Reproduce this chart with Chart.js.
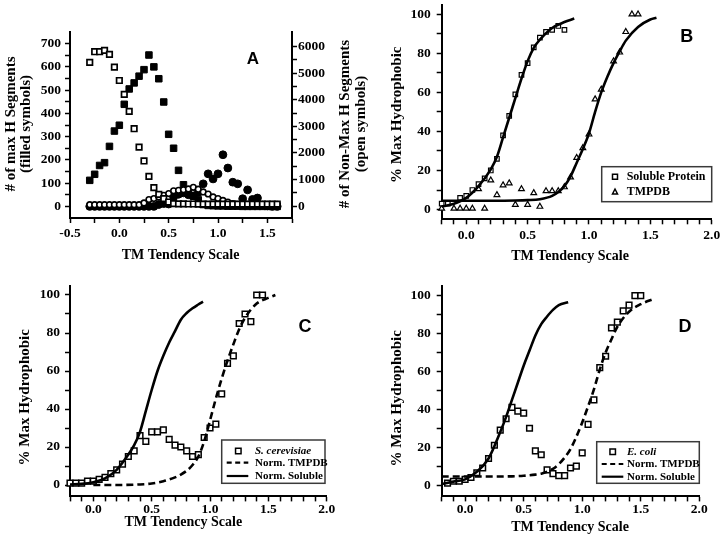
<!DOCTYPE html>
<html>
<head>
<meta charset="utf-8">
<script src="https://cdn.jsdelivr.net/npm/chart.js@4.4.1/dist/chart.umd.min.js"></script>
<style>
  body { margin: 0; background: #fff; }
  #wrap { position: relative; width: 720px; height: 538px; overflow: hidden; background: #fff; }
  canvas { position: absolute; }
</style>
</head>
<body>
<div id="wrap">
  <canvas id="chartA" style="left:0px;top:0px" width="380" height="270"></canvas>
  <canvas id="chartB" style="left:375px;top:0px" width="345" height="270"></canvas>
  <canvas id="chartC" style="left:0px;top:270px" width="375" height="268"></canvas>
  <canvas id="chartD" style="left:375px;top:270px" width="345" height="268"></canvas>
</div>
<script>
// ---------- panel A: segment counts per TM tendency bin ----------
var binsA = [-0.3, -0.25, -0.2, -0.15, -0.1, -0.05, 0, 0.05, 0.1, 0.15, 0.2, 0.25, 0.3, 0.35, 0.4, 0.45, 0.5, 0.55, 0.6, 0.65,
             0.7, 0.75, 0.8, 0.85, 0.9, 0.95, 1.0, 1.05, 1.1, 1.15, 1.2, 1.25, 1.3, 1.35, 1.4, 1.45, 1.5, 1.55, 1.6];
// filled squares (left axis)
var maxHSquares = [112, 138, 176, 188, 258, 324, 349, 439, 505, 531, 560, 588, 651, 600, 549, 449, 310, 250, 155, 93,
                   55, 44, 28, 8, 4, 3, 2, 2, 1, 1, 1, 0, 0, 0, 0, 0, 0, 0, 0];
// filled circles (left axis)
var maxHCircles = [0, 0, 0, 0, 0, 0, 0, 0, 0, 0, 0, 0, 0, 0, 8, 12, 10, 40, 52, 58,
                   50, 45, 60, 97, 140, 118, 140, 222, 165, 104, 97, 33, 71, 30, 36, 5, 2, 0, 0];
// open squares (right axis)
var nonMaxSquares = [5400, 5800, 5800, 5850, 5700, 5220, 4720, 4200, 3560, 2910, 2220, 1700, 1120, 700, 450, 290, 160, 100, 90, 90,
                     85, 85, 80, 80, 80, 80, 80, 80, 80, 80, 80, 80, 80, 80, 80, 80, 80, 80, 80];
// open circles (right axis)
var nonMaxCircles = [60, 60, 60, 60, 60, 60, 60, 60, 60, 60, 60, 125, 250, 290, 350, 410, 475, 580, 600, 620,
                     650, 710, 640, 540, 460, 350, 290, 220, 160, 100, 70, 70, 70, 70, 70, 70, 70, 70, 70];

// ---------- panel B: soluble protein vs TMPDB ----------
var xSoluble = [-0.2, -0.15, -0.05, 0, 0.05, 0.1, 0.15, 0.2, 0.25, 0.3, 0.35, 0.4, 0.45, 0.5, 0.55, 0.6, 0.65, 0.7, 0.75, 0.8];
var ySoluble = [3, 3, 6, 7, 10, 13, 16, 20, 26, 38, 48, 59, 69, 75, 83, 88, 91, 92, 94, 92];
var xTmpdb = [-0.2, -0.1, -0.05, 0, 0.05, 0.1, 0.15, 0.2, 0.25, 0.3, 0.35, 0.4, 0.45, 0.5, 0.55, 0.6, 0.65, 0.7, 0.75, 0.8,
              0.85, 0.9, 0.95, 1.0, 1.05, 1.1, 1.2, 1.25, 1.3, 1.35, 1.4];
var yTmpdb = [0.5, 0.5, 0.5, 0.5, 0.5, 10.5, 0.5, 15, 7.5, 12.5, 13.5, 2.5, 10.5, 2.5, 8.5, 1.5, 9.5, 9.5, 9.5, 11.5,
              16.5, 26.5, 31.5, 38.5, 56.5, 61.5, 76, 80.5, 91, 100, 100];
var xFitSoluble = [-0.2, -0.1, 0, 0.1, 0.2, 0.25, 0.3, 0.35, 0.4, 0.45, 0.5, 0.55, 0.6, 0.7, 0.8, 0.88];
var yFitSoluble = [1.5, 3, 6, 12, 20.6, 27, 37, 47, 57, 67, 76, 82.8, 87, 93, 96, 97.8];
var xFitTmpdb = [-0.2, 0, 0.2, 0.4, 0.5, 0.6, 0.7, 0.75, 0.8, 0.85, 0.9, 0.95, 1.0, 1.05, 1.1, 1.15, 1.2, 1.25, 1.3, 1.4, 1.5, 1.55];
var yFitTmpdb = [4.5, 4.5, 4.5, 4.6, 4.8, 5.3, 7, 9, 12, 17, 24, 31, 39, 50, 60, 68, 75, 81, 86.5, 93.5, 97.3, 98.2];

// ---------- panel C: S. cerevisiae ----------
var xCerevisiae = [-0.2, -0.15, -0.1, -0.05, 0, 0.05, 0.1, 0.15, 0.2, 0.25, 0.3, 0.35, 0.4, 0.45, 0.5, 0.55, 0.6,
                   0.65, 0.7, 0.75, 0.8, 0.85, 0.9, 0.95, 1.0, 1.05, 1.1, 1.15, 1.2, 1.25, 1.3, 1.35, 1.4, 1.45];
var yCerevisiae = [1, 1, 1, 2, 2, 3, 4, 6, 8, 11, 15, 18, 26, 23, 28, 28, 29,
                   24, 21, 20, 18, 15, 16, 25, 30, 32, 48, 64, 68, 85, 90, 86, 100, 100];
var xNormSolC = [-0.2, -0.1, 0, 0.1, 0.2, 0.3, 0.35, 0.4, 0.45, 0.5, 0.55, 0.6, 0.65, 0.7, 0.75, 0.8, 0.85, 0.9, 0.94];
var yNormSolC = [0.3, 0.6, 1.5, 3.5, 8, 16, 21, 28, 39, 50, 60, 68, 75, 81, 87, 90.5, 93, 95, 96.5];
var xNormTmC = [0, 0.2, 0.4, 0.5, 0.6, 0.7, 0.75, 0.8, 0.85, 0.9, 0.95, 1.0, 1.05, 1.1, 1.15, 1.2, 1.25, 1.3, 1.4, 1.5, 1.56];
var yNormTmC = [0, 0, 0.3, 0.8, 2, 4, 5.5, 7.5, 10.5, 15, 23, 34, 45.5, 56, 65.5, 74, 82, 88, 95.5, 98.5, 100];

// ---------- panel D: E. coli ----------
var xColi = [-0.15, -0.1, -0.05, 0, 0.05, 0.1, 0.15, 0.2, 0.25, 0.3, 0.35, 0.4, 0.45, 0.5, 0.55, 0.6, 0.65,
             0.7, 0.75, 0.8, 0.85, 0.9, 0.95, 1.0, 1.05, 1.1, 1.15, 1.2, 1.25, 1.3, 1.35, 1.4, 1.45, 1.5];
var yColi = [1, 2, 2, 3, 4, 6.5, 9, 14, 21, 29, 35, 41, 39, 38, 30, 18, 16,
             8, 6, 5, 5, 9, 10, 17, 32, 45, 62, 68, 83, 86, 92, 95, 100, 100];
var xNormSolD = [-0.2, -0.1, 0, 0.1, 0.2, 0.3, 0.35, 0.4, 0.45, 0.5, 0.55, 0.6, 0.65, 0.7, 0.75, 0.8, 0.88];
var yNormSolD = [0.5, 1.8, 3, 7, 14, 28, 36, 45, 54, 63, 71, 79, 85, 89, 92.5, 95, 96.5];
var xNormTmD = [-0.2, 0, 0.2, 0.4, 0.5, 0.6, 0.65, 0.7, 0.75, 0.8, 0.85, 0.9, 0.95, 1.0, 1.05, 1.1, 1.15, 1.2, 1.25, 1.3, 1.4, 1.5, 1.62];
var yNormTmD = [4.5, 4.5, 4.5, 4.6, 4.9, 5.5, 6, 7, 8.5, 11, 14.5, 19, 25.5, 33, 41.5, 50.5, 61, 70, 77, 83.6, 91.5, 95.5, 98.5];

// ---------- ticks ----------
var ticksXA = [-0.5, -0.25, 0, 0.25, 0.5, 0.75, 1.0, 1.25, 1.5, 1.75];
var ticksYA = [0, 50, 100, 150, 200, 250, 300, 350, 400, 450, 500, 550, 600, 650, 700];
var ticksY2A = [0, 500, 1000, 1500, 2000, 2500, 3000, 3500, 4000, 4500, 5000, 5500, 6000];
var ticksX = [-0.2, -0.1, 0, 0.1, 0.2, 0.3, 0.4, 0.5, 0.6, 0.7, 0.8, 0.9, 1.0, 1.1, 1.2, 1.3, 1.4, 1.5, 1.6, 1.7, 1.8, 1.9, 2.0];
var ticksY = [0, 10, 20, 30, 40, 50, 60, 70, 80, 90, 100];

var SERIF = '"Liberation Serif", "Times New Roman", serif';
var SANS = '"Liberation Sans", Arial, sans-serif';

Chart.defaults.font.family = SERIF;
Chart.defaults.font.weight = 'bold';
Chart.defaults.font.size = 13.5;
Chart.defaults.color = '#000';

function pts(xs, ys) {
    return xs.map(function (x, i) { return { x: x, y: ys[i] }; });
}

function isMajor(v, step) {
    return Math.abs(v / step - Math.round(v / step)) < 1e-6;
}

function makeScale(pos, min, max, tickList, major, decimals, size, pad) {
    return {
        type: 'linear',
        position: pos,
        min: min,
        max: max,
        afterBuildTicks: function (s) {
            s.ticks = tickList.map(function (v) { return { value: v }; });
        },
        afterFit: function (s) {
            if (s.isHorizontal()) s.height = size; else s.width = size;
            s.paddingLeft = 0; s.paddingRight = 0; s.paddingTop = 0; s.paddingBottom = 0;
        },
        grid: { drawOnChartArea: false, tickLength: 5, tickWidth: 1.5, tickColor: '#000' },
        border: { color: '#000', width: 2 },
        ticks: {
            padding: pad,
            autoSkip: false,
            maxRotation: 0,
            minRotation: 0,
            callback: function (v) { return isMajor(v, major) ? v.toFixed(decimals) : ''; }
        },
        title: { display: false }
    };
}

// free text (axis titles, panel letters)
var panelText = {
    id: 'panelText',
    afterDraw: function (chart, args, opts) {
        var ctx = chart.ctx;
        (opts.items || []).forEach(function (t) {
            ctx.save();
            ctx.translate(t.x, t.y);
            if (t.rotate) ctx.rotate(t.rotate * Math.PI / 180);
            ctx.font = t.font;
            ctx.fillStyle = '#000';
            ctx.textAlign = 'center';
            ctx.textBaseline = 'middle';
            ctx.fillText(t.text, 0, 0);
            ctx.restore();
        });
    }
};

function drawMarker(ctx, style, x, y, s, bw) {
    ctx.lineWidth = bw;
    ctx.beginPath();
    if (style === 'triangle') {
        var h = s * 0.87;
        ctx.moveTo(x, y - h / 2 - 0.5);
        ctx.lineTo(x + s / 2, y + h / 2);
        ctx.lineTo(x - s / 2, y + h / 2);
        ctx.closePath();
    } else {
        ctx.rect(x - s / 2, y - s / 2, s, s);
    }
    ctx.stroke();
}

// boxed legend inside the plot
var boxLegend = {
    id: 'boxLegend',
    afterDraw: function (chart, args, o) {
        if (!o.rows) return;
        var ctx = chart.ctx;
        var b = o.box;
        ctx.save();
        ctx.fillStyle = '#fff';
        ctx.fillRect(b[0], b[1], b[2] - b[0], b[3] - b[1]);
        ctx.strokeStyle = '#3a3a3a';
        ctx.lineWidth = 1.5;
        ctx.strokeRect(b[0], b[1], b[2] - b[0], b[3] - b[1]);
        o.rows.forEach(function (r) {
            var ds = chart.data.datasets[r.index];
            ctx.strokeStyle = '#000';
            if (ds.showLine) {
                ctx.lineWidth = 2.2;
                ctx.setLineDash(ds.borderDash ? [5, 3.5] : []);
                ctx.beginPath();
                ctx.moveTo(o.line[0], r.y);
                ctx.lineTo(o.line[1], r.y);
                ctx.stroke();
                ctx.setLineDash([]);
            } else {
                drawMarker(ctx, ds.pointStyle, o.markX, r.y, o.markSize, 1.5);
            }
            ctx.font = r.font || o.font;
            ctx.fillStyle = '#000';
            ctx.textAlign = 'left';
            ctx.textBaseline = 'middle';
            ctx.fillText(ds.label, o.textX, r.y + 0.5);
        });
        ctx.restore();
    }
};

function pointSet(label, data, style, radius, filled, bw, axis) {
    return {
        label: label,
        data: data,
        yAxisID: axis || 'y',
        showLine: false,
        pointStyle: style,
        pointRadius: radius,
        pointHoverRadius: radius,
        pointBorderWidth: bw,
        pointBorderColor: '#000',
        pointBackgroundColor: filled ? '#000' : '#fff',
        clip: false
    };
}

function lineSet(label, data, width, dashed) {
    return {
        label: label,
        data: data,
        showLine: true,
        borderColor: '#000',
        borderWidth: width,
        borderDash: dashed ? [7, 4] : undefined,
        pointRadius: 0,
        pointHoverRadius: 0,
        cubicInterpolationMode: 'monotone',
        fill: false,
        clip: false
    };
}

function baseOptions(padding, scales, texts, legend) {
    return {
        responsive: false,
        animation: false,
        events: [],
        layout: { padding: padding },
        scales: scales,
        plugins: {
            legend: { display: false },
            tooltip: { enabled: false },
            panelText: { items: texts },
            boxLegend: legend || {}
        }
    };
}

var yTitleFont = 'bold 15px ' + SERIF;
var xTitleFont = 'bold 14px ' + SERIF;

// ---------- panel A ----------
new Chart(document.getElementById('chartA'), {
    type: 'scatter',
    data: {
        datasets: [
            pointSet('Non-max H (soluble)', pts(binsA, nonMaxSquares), 'rect', 3.9, false, 1.7, 'y2'),
            pointSet('Non-max H (TM)', pts(binsA, nonMaxCircles), 'circle', 2.8, false, 1.6, 'y2'),
            pointSet('max H (soluble)', pts(binsA, maxHSquares), 'rect', 4.6, true, 1, 'y'),
            pointSet('max H (TM)', pts(binsA, maxHCircles), 'circle', 3.9, true, 1, 'y')
        ]
    },
    options: baseOptions(
        { left: 0, top: 32, right: 18, bottom: 0 },
        {
            x: makeScale('bottom', -0.5, 1.75, ticksXA, 0.5, 1, 52, 2),
            y: makeScale('left', -50, 750, ticksYA, 100, 0, 70, 4),
            y2: makeScale('right', -440, 6540, ticksY2A, 1000, 0, 70, 1)
        },
        [
            { text: 'TM Tendency Scale', x: 180.5, y: 255, font: xTitleFont },
            { text: '# of max H Segments', x: 11, y: 124, rotate: -90, font: yTitleFont },
            { text: '(filled symbols)', x: 26, y: 124, rotate: -90, font: yTitleFont },
            { text: '# of Non-Max H Segments', x: 345, y: 124, rotate: -90, font: yTitleFont },
            { text: '(open symbols)', x: 361, y: 124, rotate: -90, font: yTitleFont },
            { text: 'A', x: 253, y: 59, font: 'bold 17px ' + SANS }
        ]
    ),
    plugins: [panelText, boxLegend]
});

// ---------- panel B ----------
new Chart(document.getElementById('chartB'), {
    type: 'scatter',
    data: {
        datasets: [
            lineSet('Soluble fit', pts(xFitSoluble, yFitSoluble), 2.6, false),
            lineSet('TMPDB fit', pts(xFitTmpdb, yFitTmpdb), 2.6, false),
            pointSet('Soluble Protein', pts(xSoluble, ySoluble), 'rect', 3.2, false, 1.2),
            pointSet('TMPDB', pts(xTmpdb, yTmpdb), 'triangle', 3.3, false, 1.2)
        ]
    },
    options: baseOptions(
        { left: 0, top: 1, right: 8.3, bottom: 0 },
        {
            x: makeScale('bottom', -0.2, 2.0, ticksX, 0.5, 1, 50.7, 3.5),
            y: makeScale('left', -5, 105, ticksY, 20, 0, 66.7, 6)
        },
        [
            { text: 'TM Tendency Scale', x: 195, y: 256, font: xTitleFont },
            { text: '% Max Hydrophobic', x: 21.7, y: 114.7, rotate: -90, font: yTitleFont },
            { text: 'B', x: 311.7, y: 36.7, font: 'bold 18px ' + SANS }
        ],
        {
            box: [226.7, 166.7, 336.7, 201.7],
            rows: [{ index: 2, y: 176.7 }, { index: 3, y: 191.7 }],
            markX: 240, markSize: 5, textX: 251.7,
            font: 'bold 12px ' + SERIF
        }
    ),
    plugins: [panelText, boxLegend]
});

// ---------- panel C ----------
new Chart(document.getElementById('chartC'), {
    type: 'scatter',
    data: {
        datasets: [
            lineSet('Norm. Soluble', pts(xNormSolC, yNormSolC), 2.6, false),
            lineSet('Norm. TMPDB', pts(xNormTmC, yNormTmC), 2.6, true),
            pointSet('S. cerevisiae', pts(xCerevisiae, yCerevisiae), 'rect', 4, false, 1.5)
        ]
    },
    options: baseOptions(
        { left: 0, top: 15.5, right: 48.3, bottom: 0 },
        {
            x: makeScale('bottom', -0.2, 2.0, ticksX, 0.5, 1, 41.6, 0),
            y: makeScale('left', -6, 105, ticksY, 20, 0, 70, 5)
        },
        [
            { text: 'TM Tendency Scale', x: 183.3, y: 252, font: xTitleFont },
            { text: '% Max Hydrophobic', x: 25, y: 127.3, rotate: -90, font: yTitleFont },
            { text: 'C', x: 305, y: 56.7, font: 'bold 18px ' + SANS }
        ],
        {
            box: [221.7, 170, 325, 213.3],
            rows: [{ index: 2, y: 181, font: 'italic bold 11px ' + SERIF }, { index: 1, y: 192.7 }, { index: 0, y: 206 }],
            markX: 238.3, markSize: 5.5, line: [226.7, 248.3], textX: 255,
            font: 'bold 11px ' + SERIF
        }
    ),
    plugins: [panelText, boxLegend]
});

// ---------- panel D ----------
new Chart(document.getElementById('chartD'), {
    type: 'scatter',
    data: {
        datasets: [
            lineSet('Norm. Soluble', pts(xNormSolD, yNormSolD), 2.6, false),
            lineSet('Norm. TMPDB', pts(xNormTmD, yNormTmD), 2.6, true),
            pointSet('E. coli', pts(xColi, yColi), 'rect', 4, false, 1.5)
        ]
    },
    options: baseOptions(
        { left: 0, top: 16.2, right: 20.7, bottom: 0 },
        {
            x: makeScale('bottom', -0.2, 2.0, ticksX, 0.5, 1, 41.6, 0),
            y: makeScale('left', -6, 105, ticksY, 20, 0, 66.7, 6)
        },
        [
            { text: 'TM Tendency Scale', x: 195, y: 257, font: xTitleFont },
            { text: '% Max Hydrophobic', x: 21.7, y: 128.3, rotate: -90, font: yTitleFont },
            { text: 'D', x: 310, y: 56.7, font: 'bold 18px ' + SANS }
        ],
        {
            box: [221.7, 171.7, 324.3, 213.3],
            rows: [{ index: 2, y: 181.7, font: 'italic bold 11px ' + SERIF }, { index: 1, y: 194 }, { index: 0, y: 206.7 }],
            markX: 237.7, markSize: 5.5, line: [226.7, 248.3], textX: 252,
            font: 'bold 11px ' + SERIF
        }
    ),
    plugins: [panelText, boxLegend]
});
</script>
</body>
</html>
